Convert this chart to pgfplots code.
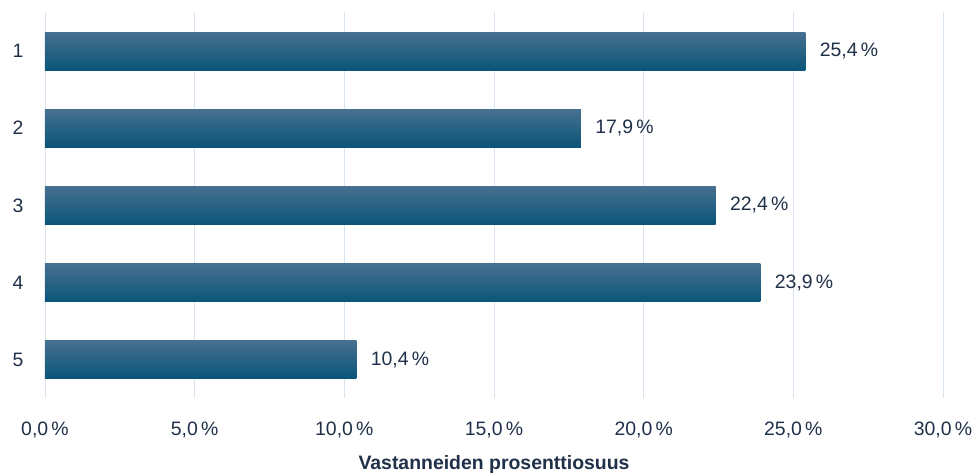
\documentclass[border=0pt]{standalone}
\usepackage{pgfplots}
\pgfplotsset{compat=1.18}
\usepackage{fontspec}
\setmainfont{Liberation Sans}
\definecolor{txt}{HTML}{1F3048}
\definecolor{gridc}{HTML}{D8E5F1}
\definecolor{bartop}{HTML}{47708F}
\definecolor{barbot}{HTML}{0A5579}
\begin{document}
\begin{tikzpicture}
\begin{axis}[
  name=ax,
  scale only axis,
  width=898bp, height=386bp,
  xbar, bar width=38bp, bar shift=0pt,
  xmin=0, xmax=30,
  ymin=0.5, ymax=5.5,
  y dir=reverse,
  ytick={1,2,3,4,5},
  xtick={0,5,10,15,20,25,30},
  axis line style={draw=none},
  major tick length=0pt,
  xmajorgrids, grid style={draw=gridc, line width=1pt},
  ymajorgrids=false,
  font=\fontsize{19.5}{23}\selectfont,
  ticklabel style={text=txt},
  /pgf/number format/assume math mode=true,
  xticklabel={\pgfmathprintnumber[fixed,fixed zerofill,precision=1,use comma]{\tick}\,\%},
  xticklabel style={anchor=center, yshift=-31.5bp},
  yticklabel style={anchor=center, xshift=-27bp},
  xlabel={\textbf{Vastanneiden prosenttiosuus}},
  xlabel style={text=txt, at={(axis description cs:0.5,0)}, anchor=center, yshift=-66.5bp},
  nodes near coords={\pgfmathprintnumber[fixed,fixed zerofill,precision=1,use comma]{\pgfplotspointmeta}\,\%},
  nodes near coords style={text=txt, xshift=11bp, anchor=west},
  point meta=x,
  every axis plot/.append style={draw=none, top color=bartop, bottom color=barbot},
]
\addplot coordinates {(25.4,1)};
\addplot coordinates {(17.9,2)};
\addplot coordinates {(22.4,3)};
\addplot coordinates {(23.9,4)};
\addplot coordinates {(10.4,5)};
\end{axis}
\pgfresetboundingbox
\path ([xshift=-45bp,yshift=-75.4bp]ax.south west) rectangle ([xshift=31bp,yshift=12.4bp]ax.north east);
\end{tikzpicture}
\end{document}
